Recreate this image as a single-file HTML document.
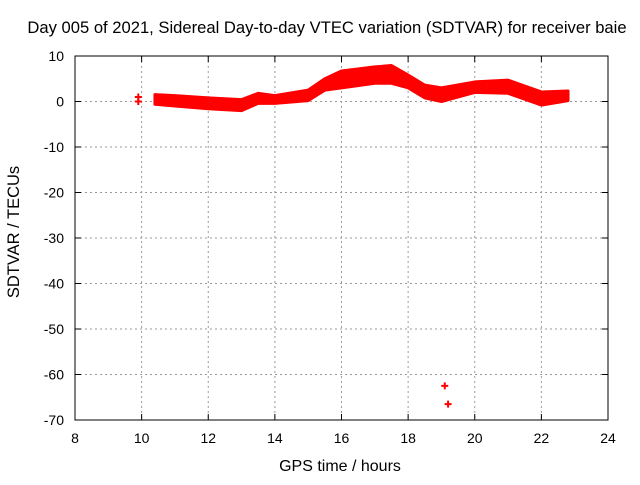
<!DOCTYPE html>
<html><head><meta charset="utf-8"><style>
body{margin:0;background:#fff;font-family:"Liberation Sans",sans-serif}
text{font-family:"Liberation Sans",sans-serif;font-size:14px;fill:#000}
</style></head><body>
<svg id="c" width="640" height="480">
<rect width="640" height="480" fill="#fff"/>
<text x="327" y="33" text-anchor="middle" style="font-size:16.6px">Day 005 of 2021, Sidereal Day-to-day VTEC variation (SDTVAR) for receiver baie</text>
<g id="grid"></g>
<g id="data"></g>
<rect x="75" y="56" width="533" height="364" fill="none" stroke="#000" stroke-width="1"/>
<g id="ticks"></g>
<text x="340" y="471" text-anchor="middle" style="font-size:16px">GPS time / hours</text>
<text transform="translate(19,232) rotate(-90)" text-anchor="middle" style="font-size:16.5px">SDTVAR / TECUs</text>
</svg>
<script>
const hours=[10.4,11,12,13,13.5,14,15,15.5,16,17,17.5,18,18.5,19,20,21,22,22.8];
const upper=[1.5,1.3,0.8,0.4,1.8,1.3,2.5,5,6.7,7.6,7.9,5.8,3.6,3,4.3,4.7,2.1,2.3];
const lower=[-0.6,-1,-1.6,-2,-0.4,-0.4,0.2,2.5,3,4,4,3,0.8,0,2,1.8,-0.8,0.2];
const outX=[9.9,9.9,19.1,19.2];
const outY=[1,0,-62.5,-66.5];
const xTicks=[8,10,12,14,16,18,20,22,24];
const yTicks=[10,0,-10,-20,-30,-40,-50,-60,-70];
const X0=75,X1=608,Y0=56,Y1=420;
const xs=v=>X0+(v-8)/16*(X1-X0);
const ys=v=>Y0+(10-v)/80*(Y1-Y0);
const NS='http://www.w3.org/2000/svg';
const mk=(t,a,p)=>{const e=document.createElementNS(NS,t);for(const k in a)e.setAttribute(k,a[k]);document.getElementById(p).appendChild(e);return e;};
xTicks.forEach(v=>{const x=xs(v);
 if(v>8&&v<24){const g=mk('line',{x1:x,x2:x,y1:Y0,y2:Y1,stroke:'#999','stroke-dasharray':'2,3'},'grid');
 
 }
 mk('line',{x1:x,x2:x,y1:Y1,y2:Y1-6,stroke:'#000'},'ticks');mk('line',{x1:x,x2:x,y1:Y0,y2:Y0+6,stroke:'#000'},'ticks');
 const t=mk('text',{x:x,y:Y1+23,'text-anchor':'middle'},'ticks');t.textContent=v;
 
 });
yTicks.forEach(v=>{const y=ys(v);
 if(v<10&&v>-70){const g=mk('line',{x1:X0,x2:X1,y1:y,y2:y,stroke:'#999','stroke-dasharray':'2,3'},'grid');
 
 }
 mk('line',{x1:X0,x2:X0+6,y1:y,y2:y,stroke:'#000'},'ticks');mk('line',{x1:X1,x2:X1-6,y1:y,y2:y,stroke:'#000'},'ticks');
 const t=mk('text',{x:X0-11,y:y+5,'text-anchor':'end'},'ticks');t.textContent=v;
 
 });
let pts=hours.map((h,i)=>xs(h)+','+ys(upper[i]));
for(let i=hours.length-1;i>=0;i--)pts.push(xs(hours[i])+','+ys(lower[i]));
const band=mk('polygon',{points:pts.join(' '),fill:'#f00',stroke:'#f00','stroke-width':3,'stroke-linejoin':'round'},'data');


outX.forEach((h,i)=>{const x=xs(h),y=ys(outY[i]);
 const p=mk('path',{d:`M${x-3.5},${y}H${x+3.5}M${x},${y-3.5}V${y+3.5}`,stroke:'#f00','stroke-width':2},'data');
 
 });
</script>
</body></html>
